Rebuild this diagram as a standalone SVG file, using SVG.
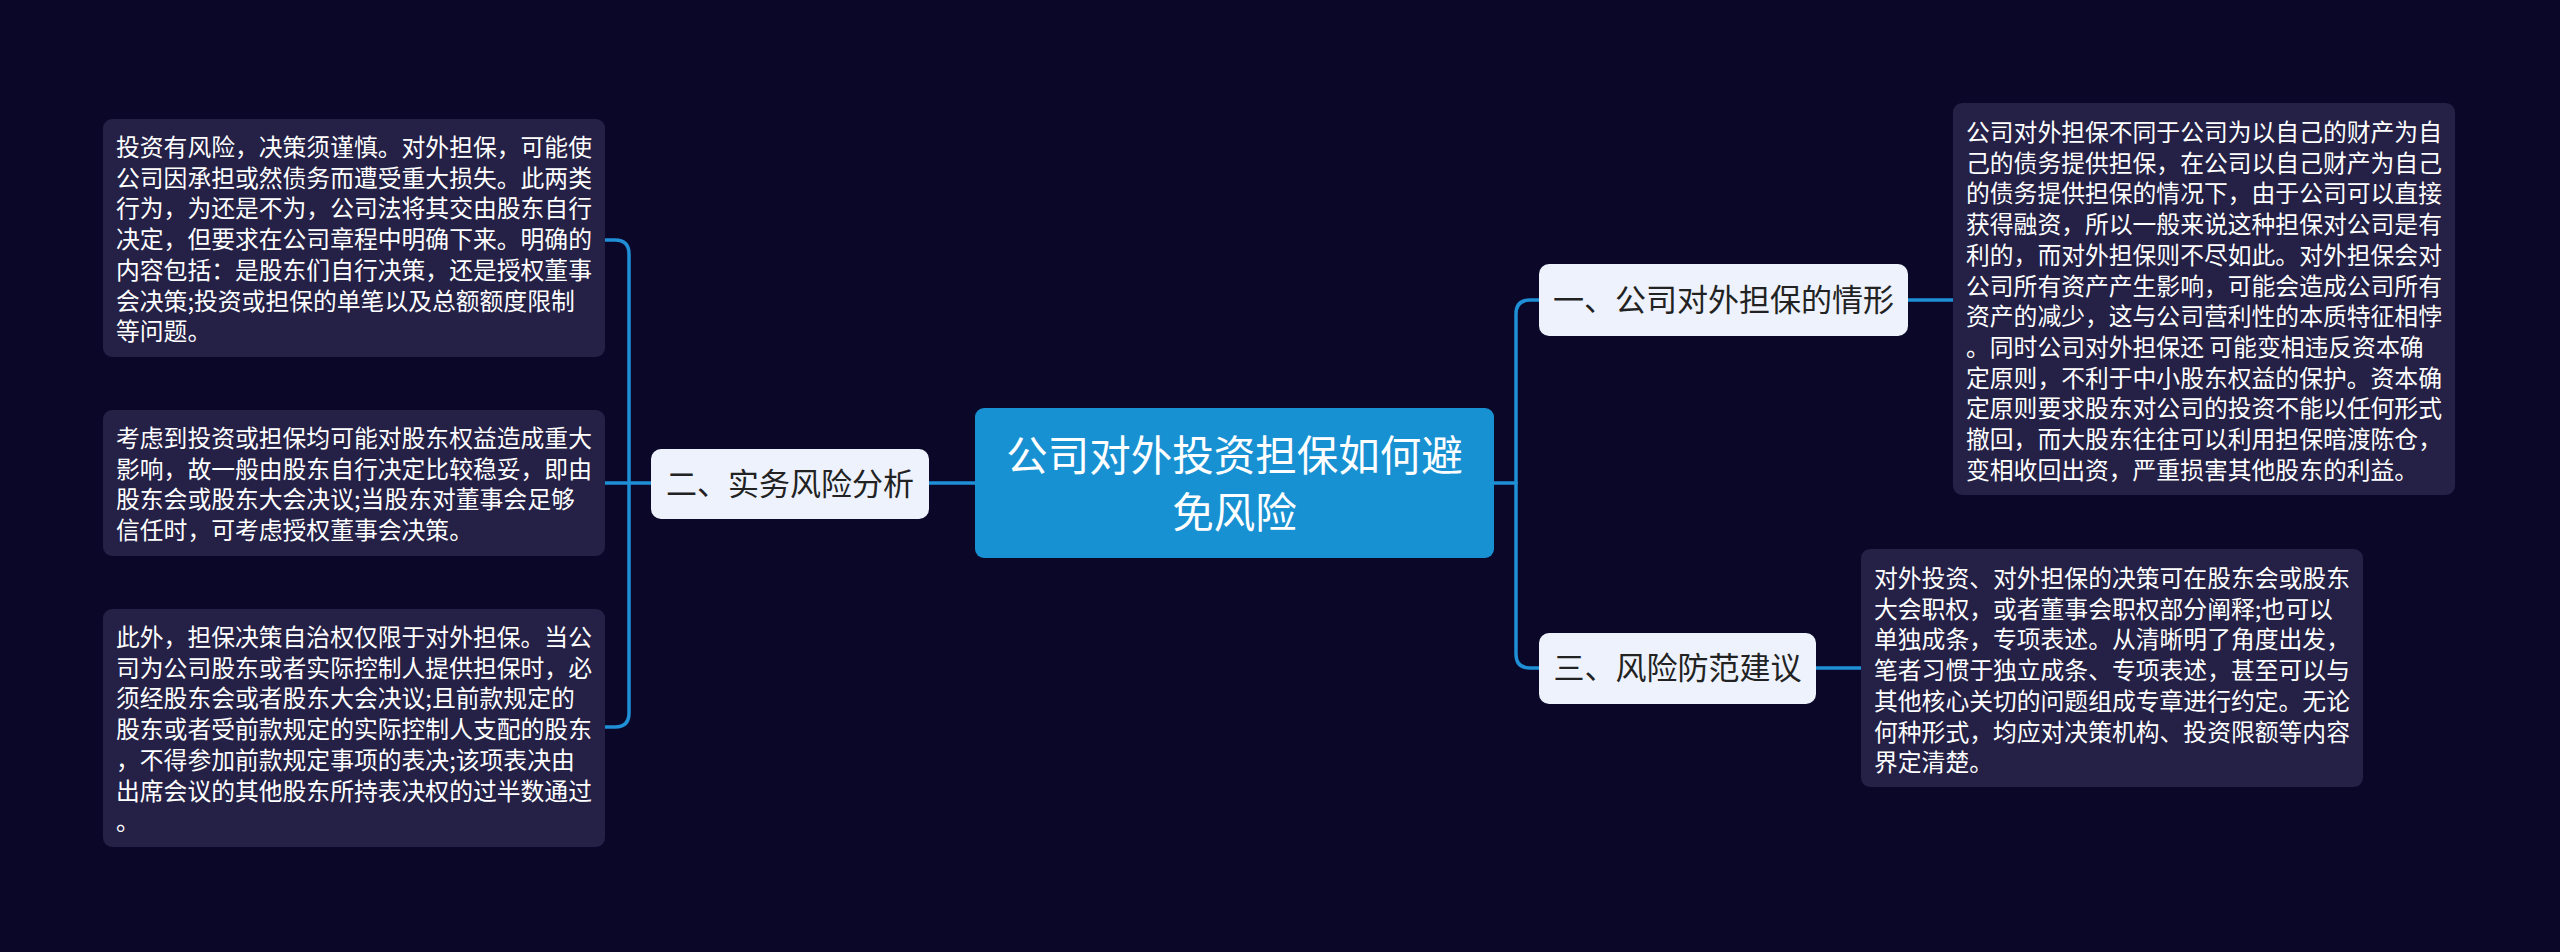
<svg xmlns="http://www.w3.org/2000/svg" width="2560" height="952" viewBox="0 0 2560 952">
<style>
.bg{fill:#0b0729}
.conn{fill:none;stroke:#1f8fd6;stroke-width:3.5;stroke-linecap:round}
.box{fill:#242046}
.node{fill:#edf2fc}
.root{fill:#1891d3}
.bt{font-family:"Noto Sans CJK SC","Noto Sans",sans-serif;font-size:23.8px;fill:#ffffff}
.nt{font-family:"Noto Sans CJK SC","Noto Sans",sans-serif;font-size:31px;fill:#222222;text-anchor:middle}
.rt{font-family:"Noto Sans CJK SC","Noto Sans",sans-serif;font-size:41.5px;fill:#ffffff;text-anchor:middle}
</style>
<rect class="bg" x="0" y="0" width="2560" height="952"/>
<g id="connectors">
<path class="conn" d="M975 483 H929"/>
<path class="conn" d="M651 483 H605"/>
<path class="conn" d="M605 240 H615 Q629 240 629 254 V713 Q629 727 615 727 H605"/>
<path class="conn" d="M1494 483 H1516"/>
<path class="conn" d="M1539 300 H1530 Q1516 300 1516 314 V654 Q1516 668 1530 668 H1539"/>
<path class="conn" d="M1908 300 H1953"/>
<path class="conn" d="M1816 668 H1861"/>
</g>
<g id="root">
<rect class="root" x="975" y="408" width="519" height="150" rx="9"/>
<text class="rt" x="1234.5" y="471">公司对外投资担保如何避</text>
<text class="rt" x="1234.5" y="528">免风险</text>
</g>
<g id="n2">
<rect class="node" x="651" y="449" width="278" height="70" rx="10"/>
<text class="nt" x="790" y="495">二、实务风险分析</text>
</g>
<g id="n1">
<rect class="node" x="1539" y="264" width="369" height="72" rx="10"/>
<text class="nt" x="1723.5" y="311">一、公司对外担保的情形</text>
</g>
<g id="n3">
<rect class="node" x="1539" y="633" width="277" height="71" rx="10"/>
<text class="nt" x="1677.5" y="679">三、风险防范建议</text>
</g>
<g id="b1">
<rect class="box" x="103" y="119" width="502" height="238" rx="9"/>
<text class="bt" x="116" y="156">
<tspan x="116" y="156">投资有风险，决策须谨慎。对外担保，可能使</tspan>
<tspan x="116" y="186.7">公司因承担或然债务而遭受重大损失。此两类</tspan>
<tspan x="116" y="217.4">行为，为还是不为，公司法将其交由股东自行</tspan>
<tspan x="116" y="248.1">决定，但要求在公司章程中明确下来。明确的</tspan>
<tspan x="116" y="278.8">内容包括：是股东们自行决策，还是授权董事</tspan>
<tspan x="116" y="309.5">会决策;投资或担保的单笔以及总额额度限制</tspan>
<tspan x="116" y="340.2">等问题。</tspan>
</text>
</g>
<g id="b2">
<rect class="box" x="103" y="410" width="502" height="146" rx="9"/>
<text class="bt" x="116" y="447">
<tspan x="116" y="447">考虑到投资或担保均可能对股东权益造成重大</tspan>
<tspan x="116" y="477.7">影响，故一般由股东自行决定比较稳妥，即由</tspan>
<tspan x="116" y="508.4">股东会或股东大会决议;当股东对董事会足够</tspan>
<tspan x="116" y="539.1">信任时，可考虑授权董事会决策。</tspan>
</text>
</g>
<g id="b3">
<rect class="box" x="103" y="609" width="502" height="238" rx="9"/>
<text class="bt" x="116" y="646">
<tspan x="116" y="646">此外，担保决策自治权仅限于对外担保。当公</tspan>
<tspan x="116" y="676.7">司为公司股东或者实际控制人提供担保时，必</tspan>
<tspan x="116" y="707.4">须经股东会或者股东大会决议;且前款规定的</tspan>
<tspan x="116" y="738.1">股东或者受前款规定的实际控制人支配的股东</tspan>
<tspan x="116" y="768.8">，不得参加前款规定事项的表决;该项表决由</tspan>
<tspan x="116" y="799.5">出席会议的其他股东所持表决权的过半数通过</tspan>
<tspan x="116" y="830.2">。</tspan>
</text>
</g>
<g id="bA">
<rect class="box" x="1953" y="103" width="502" height="392" rx="9"/>
<text class="bt" x="1966" y="141">
<tspan x="1966" y="141">公司对外担保不同于公司为以自己的财产为自</tspan>
<tspan x="1966" y="171.7">己的债务提供担保，在公司以自己财产为自己</tspan>
<tspan x="1966" y="202.4">的债务提供担保的情况下，由于公司可以直接</tspan>
<tspan x="1966" y="233.1">获得融资，所以一般来说这种担保对公司是有</tspan>
<tspan x="1966" y="263.8">利的，而对外担保则不尽如此。对外担保会对</tspan>
<tspan x="1966" y="294.5">公司所有资产产生影响，可能会造成公司所有</tspan>
<tspan x="1966" y="325.2">资产的减少，这与公司营利性的本质特征相悖</tspan>
<tspan x="1966" y="355.9">。同时公司对外担保还 可能变相违反资本确</tspan>
<tspan x="1966" y="386.6">定原则，不利于中小股东权益的保护。资本确</tspan>
<tspan x="1966" y="417.3">定原则要求股东对公司的投资不能以任何形式</tspan>
<tspan x="1966" y="448">撤回，而大股东往往可以利用担保暗渡陈仓，</tspan>
<tspan x="1966" y="478.7">变相收回出资，严重损害其他股东的利益。</tspan>
</text>
</g>
<g id="bB">
<rect class="box" x="1861" y="549" width="502" height="238" rx="9"/>
<text class="bt" x="1874" y="587">
<tspan x="1874" y="587">对外投资、对外担保的决策可在股东会或股东</tspan>
<tspan x="1874" y="617.7">大会职权，或者董事会职权部分阐释;也可以</tspan>
<tspan x="1874" y="648.4">单独成条，专项表述。从清晰明了角度出发，</tspan>
<tspan x="1874" y="679.1">笔者习惯于独立成条、专项表述，甚至可以与</tspan>
<tspan x="1874" y="709.8">其他核心关切的问题组成专章进行约定。无论</tspan>
<tspan x="1874" y="740.5">何种形式，均应对决策机构、投资限额等内容</tspan>
<tspan x="1874" y="771.2">界定清楚。</tspan>
</text>
</g>
</svg>
